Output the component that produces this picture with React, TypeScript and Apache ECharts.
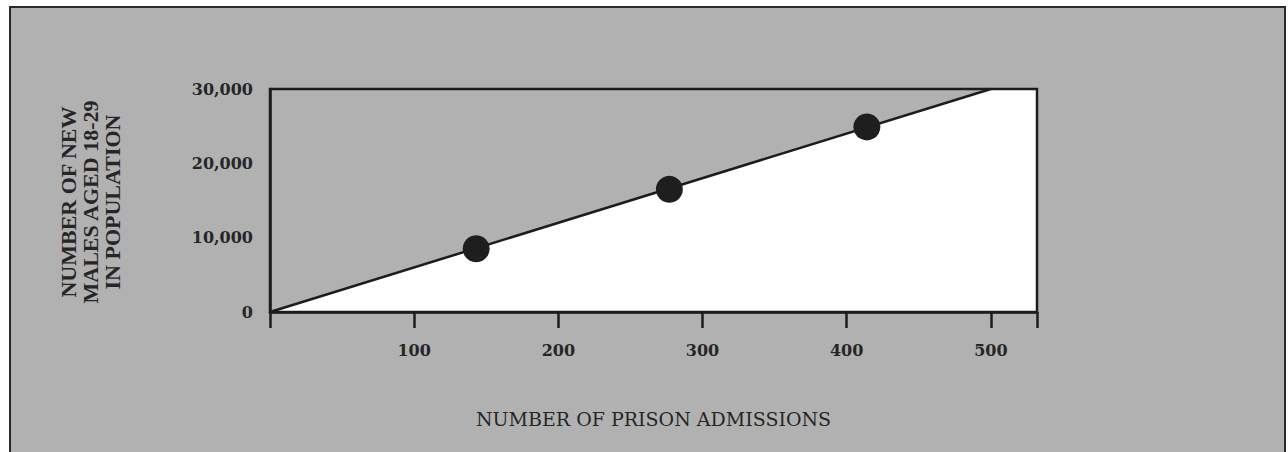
import React, { useEffect, useRef } from "react";
import * as echarts from "echarts";

const xTicks = [100, 200, 300, 400, 500];
const yTicks = [0, 10000, 20000, 30000];
const fitLine: [number, number][] = [[0, 0], [500, 30000]];
const whiteArea: [number, number][] = [[0, 0], [500, 30000], [532, 30000]];
const points: [number, number][] = [[143, 8500], [277, 16500], [414, 24900]];
const xName = "NUMBER OF PRISON ADMISSIONS";
const yName = "NUMBER OF NEW\nMALES AGED 18-29\nIN POPULATION";

const X_MIN = 0;
const X_MAX = 532;
const Y_MIN = 0;
const Y_MAX = 30000;

export default function App() {
  const ref = useRef<HTMLDivElement>(null);
  useEffect(() => {
    if (!ref.current) return;
    const chart = echarts.init(ref.current, null, { renderer: "svg" });
    const ink = "#1c1c1c";
    const textInk = "#262626";
    const serif = "DejaVu Serif";
    const fmt = (v: number) => v.toLocaleString("en-US");
    chart.setOption({
      animation: false,
      backgroundColor: "#ffffff",
      graphic: [
        {
          type: "rect",
          z: -100,
          shape: { x: 10, y: 7, width: 1275, height: 470 },
          style: { fill: "#b1b1b1", stroke: "#2a2a2a", lineWidth: 2 },
        },
        {
          type: "text",
          z: 100,
          x: 90,
          y: 202,
          rotation: Math.PI / 2,
          style: {
            text: yName,
            align: "center",
            verticalAlign: "middle",
            fill: textInk,
            font: "bold 22px 'Liberation Serif'",
            lineHeight: 22,
          },
        },
      ],
      grid: {
        left: 270,
        right: 251,
        top: 89,
        bottom: 140,
        show: true,
        z: 10,
        backgroundColor: "transparent",
        borderColor: ink,
        borderWidth: 2.5,
      },
      xAxis: [
        {
          type: "value",
          min: X_MIN,
          max: X_MAX,
          position: "bottom",
          splitLine: { show: false },
          axisLine: { show: true, lineStyle: { color: ink, width: 2.5 } },
          axisTick: {
            show: true,
            inside: true,
            length: 15,
            customValues: xTicks,
            lineStyle: { color: ink, width: 2 },
          },
          axisLabel: {
            customValues: xTicks,
            margin: 30,
            color: textInk,
            fontFamily: serif,
            fontWeight: "bold",
            fontSize: 16,
            formatter: (v: number) => String(v),
          },
          name: xName,
          nameLocation: "middle",
          nameGap: 97,
          nameTextStyle: { color: textInk, fontFamily: serif, fontSize: 19 },
        },
        {
          type: "value",
          min: X_MIN,
          max: X_MAX,
          position: "bottom",
          splitLine: { show: false },
          axisLine: { show: false },
          axisTick: {
            show: true,
            inside: false,
            length: 16,
            customValues: [X_MIN, ...xTicks, X_MAX],
            lineStyle: { color: ink, width: 2.5 },
          },
          axisLabel: { show: false },
        },
      ],
      yAxis: {
        type: "value",
        min: Y_MIN,
        max: Y_MAX,
        interval: 10000,
        splitLine: { show: false },
        axisLine: { show: true, lineStyle: { color: ink, width: 2.5 } },
        axisTick: { show: false },
        axisLabel: {
          customValues: yTicks,
          margin: 17,
          color: textInk,
          fontFamily: serif,
          fontWeight: "bold",
          fontSize: 16,
          formatter: (v: number) => fmt(v),
        },
      },
      series: [
        {
          type: "line",
          data: whiteArea,
          symbol: "none",
          lineStyle: { width: 0 },
          areaStyle: { color: "#ffffff", opacity: 1 },
          silent: true,
          z: 1,
        },
        {
          type: "line",
          data: fitLine,
          symbol: "none",
          lineStyle: { color: ink, width: 2.5 },
          z: 3,
        },
        {
          type: "scatter",
          data: points,
          symbolSize: 27,
          itemStyle: { color: "#1e1e1e", opacity: 1 },
          z: 4,
        },
      ],
    });
    return () => chart.dispose();
  }, []);
  return (
    <div
      ref={ref}
      style={{ position: "fixed", left: 0, top: 0, width: 1288, height: 452 }}
    />
  );
}
